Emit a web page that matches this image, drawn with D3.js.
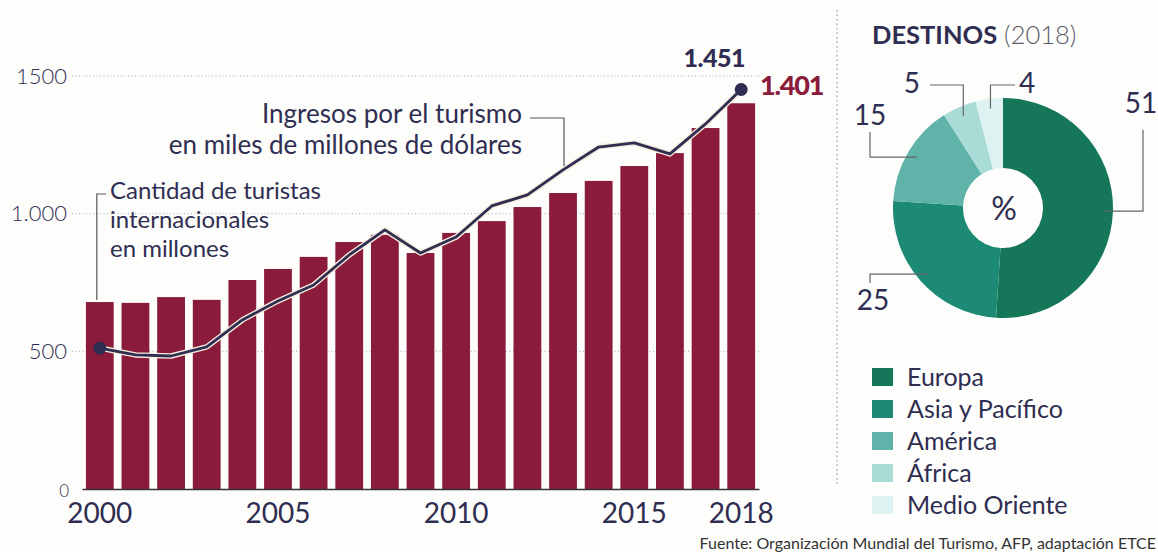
<!DOCTYPE html>
<html>
<head>
<meta charset="utf-8">
<script src="https://cdn.jsdelivr.net/npm/d3@7"></script>
<style>
    body { margin: 0; background: #fdfdfb; }
    svg { display: block; font-family: Lato, "Open Sans", sans-serif; }
</style>
</head>
<body>
<div id="chart"></div>
<script>
// Data
const years = [2000, 2001, 2002, 2003, 2004, 2005, 2006, 2007, 2008, 2009,
               2010, 2011, 2012, 2013, 2014, 2015, 2016, 2017, 2018];
// International tourists, millions (bars)
const tourists = [679, 676, 697, 687, 759, 799, 843, 897, 923, 857,
                  930, 973, 1024, 1075, 1119, 1173, 1220, 1311, 1401];
// Tourism revenue, billions of dollars (line)
const revenue = [512, 487, 483, 516, 614, 683, 741, 850, 941, 857,
                 915, 1028, 1068, 1159, 1242, 1257, 1217, 1326, 1451];
const yearTicks = [2000, 2005, 2010, 2015, 2018];
const valueTicks = [0, 500, 1000, 1500];
const valueTickLabels = ["0", "500", "1.000", "1500"];

const regions = ["Europa", "Asia y Pacífico", "América", "África", "Medio Oriente"];
const shares = [51, 25, 15, 5, 4];
const regionColors = ["#15765a", "#1c8a74", "#5fb3a9", "#a9dcd7", "#def3f1"];

const ink = "#2f2d52";
const barColor = "#8b1b3b";
const width = 1158, height = 552;

const svg = d3.select("#chart").append("svg")
    .attr("width", width)
    .attr("height", height);

// ---- Left chart: bars + line ----
const x = d3.scaleBand()
    .domain(years)
    .range([82, 759])
    .paddingInner(0.22)
    .paddingOuter(0.11);
const y = d3.scaleLinear().domain([0, 1500]).range([489, 76]);
const cx = yr => x(yr) + x.bandwidth() / 2;

// dotted gridlines
svg.append("g").selectAll("line")
    .data(valueTicks.filter(v => v > 0))
    .join("line")
        .attr("x1", 72).attr("x2", 759)
        .attr("y1", d => y(d)).attr("y2", d => y(d))
        .attr("stroke", "#a8a8b0")
        .attr("stroke-width", 1)
        .attr("stroke-dasharray", "1,2.5");

// bars
svg.append("g").selectAll("rect")
    .data(years)
    .join("rect")
        .attr("x", d => x(d))
        .attr("width", x.bandwidth())
        .attr("y", (d, i) => y(tourists[i]))
        .attr("height", (d, i) => y(0) - y(tourists[i]))
        .attr("fill", barColor);

// x axis (baseline + year labels)
const xAxis = svg.append("g")
    .attr("transform", "translate(0," + y(0) + ")")
    .call(d3.axisBottom(x).tickValues(yearTicks).tickSize(0).tickPadding(14));
xAxis.select(".domain").attr("stroke", "#333").attr("stroke-width", 1.5);
xAxis.selectAll("text")
    .attr("font-size", 28)
    .attr("font-family", "Lato, sans-serif")
    .attr("fill", ink);

// y axis labels
const yAxis = svg.append("g")
    .attr("transform", "translate(70,0)")
    .call(d3.axisLeft(y)
        .tickValues(valueTicks)
        .tickFormat((d, i) => valueTickLabels[i])
        .tickSize(0)
        .tickPadding(3));
yAxis.select(".domain").remove();
yAxis.selectAll("text")
    .attr("font-size", 22)
    .attr("font-weight", 300)
    .attr("font-family", "Lato, sans-serif")
    .attr("fill", ink);
// the zero sits tucked in beside "2000"
yAxis.selectAll(".tick").filter(d => d === 0).select("text")
    .attr("font-size", 17)
    .attr("x", -1)
    .attr("dy", "0.45em");

// revenue line with a light halo
const line = d3.line()
    .x((d, i) => cx(years[i]))
    .y(d => y(d));
svg.append("path")
    .datum(revenue)
    .attr("d", line)
    .attr("fill", "none")
    .attr("stroke", "#f6ecdc")
    .attr("stroke-width", 5.5)
    .attr("stroke-linejoin", "round");
svg.append("path")
    .datum(revenue)
    .attr("d", line)
    .attr("fill", "none")
    .attr("stroke", ink)
    .attr("stroke-width", 2.8)
    .attr("stroke-linejoin", "round");

const last = years.length - 1;
svg.append("g").selectAll("circle")
    .data([0, last])
    .join("circle")
        .attr("cx", i => cx(years[i]))
        .attr("cy", i => y(revenue[i]))
        .attr("r", 6.5)
        .attr("fill", ink);

// end value labels
svg.append("text")
    .attr("x", cx(years[last]) - 27)
    .attr("y", y(revenue[last]) - 22)
    .attr("text-anchor", "middle")
    .attr("font-size", 25)
    .attr("font-weight", 900)
    .attr("letter-spacing", -0.5)
    .attr("fill", ink)
    .text("1.451");
svg.append("text")
    .attr("x", x(years[last]) + x.bandwidth() + 5)
    .attr("y", y(tourists[last]) - 8)
    .attr("font-size", 27)
    .attr("font-weight", 900)
    .attr("letter-spacing", -1.2)
    .attr("fill", barColor)
    .text("1.401");

// annotation: revenue
const revX = cx(years[13]) + 1;
svg.append("path")
    .attr("d", "M530,118H" + revX + "V" + (y(revenue[13]) - 4))
    .attr("fill", "none")
    .attr("stroke", "#555")
    .attr("stroke-width", 1.2);
svg.append("text")
    .attr("x", 522)
    .attr("y", 123)
    .attr("text-anchor", "end")
    .attr("font-size", 26)
    .attr("fill", ink)
    .selectAll("tspan")
    .data(["Ingresos por el turismo", "en miles de millones de dólares"])
    .join("tspan")
        .attr("x", 522)
        .attr("dy", (d, i) => i === 0 ? 0 : 31)
        .text(d => d);

// annotation: tourists
const turX = cx(years[0]) - 3;
svg.append("path")
    .attr("d", "M106,194H" + turX + "V" + (y(tourists[0]) - 2))
    .attr("fill", "none")
    .attr("stroke", "#555")
    .attr("stroke-width", 1.2);
svg.append("text")
    .attr("x", 110)
    .attr("y", 199)
    .attr("font-size", 24)
    .attr("fill", ink)
    .selectAll("tspan")
    .data(["Cantidad de turistas", "internacionales", "en millones"])
    .join("tspan")
        .attr("x", 110)
        .attr("dy", (d, i) => i === 0 ? 0 : 28.8)
        .text(d => d);

// separator
svg.append("line")
    .attr("x1", 837).attr("x2", 837)
    .attr("y1", 10).attr("y2", 487)
    .attr("stroke", "#9a9aa2")
    .attr("stroke-width", 1.2)
    .attr("stroke-dasharray", "1.5,3");

// ---- Right chart: donut ----
const pieCenter = [1003, 208];
const title = svg.append("text")
    .attr("x", 872)
    .attr("y", 44)
    .attr("font-size", 25.5)
    .attr("fill", ink);
title.append("tspan").attr("font-weight", 700).text("DESTINOS");
title.append("tspan").attr("font-weight", 300).attr("fill", "#5a5a6a").text(" (2018)");

const pie = d3.pie().sort(null).value(d => d);
const arcs = pie(shares);
const arc = d3.arc().innerRadius(40).outerRadius(110);
const anchorArc = d3.arc().innerRadius(100).outerRadius(100);

const pg = svg.append("g")
    .attr("transform", "translate(" + pieCenter[0] + "," + pieCenter[1] + ")");
pg.selectAll("path.slice")
    .data(arcs)
    .join("path")
        .attr("class", "slice")
        .attr("d", arc)
        .attr("fill", (d, i) => regionColors[i]);

pg.append("text")
    .attr("x", 1)
    .attr("dy", "0.36em")
    .attr("text-anchor", "middle")
    .attr("font-size", 32)
    .attr("fill", ink)
    .text("%");

// leader routes for the slice labels (absolute page coords)
const pieLabelLayout = [
    {route: "hv", x: 1143, y: 130, tx: 1141, ty: 113, anchor: "middle"},
    {route: "hv", x: 870, y: 283, tx: 873, ty: 310, anchor: "middle"},
    {route: "hv", x: 870, y: 132, tx: 870, ty: 125, anchor: "middle"},
    {route: "vh", x: 930, y: 85, tx: 920, ty: 93, anchor: "end"},
    {route: "vh", x: 1015, y: 85, tx: 1019, ty: 93, anchor: "start"}
];

arcs.forEach(function(a, i) {
    const c = anchorArc.centroid(a);
    const ax = pieCenter[0] + c[0], ay = pieCenter[1] + c[1];
    const L = pieLabelLayout[i];
    const d = L.route === "hv"
        ? "M" + ax + "," + ay + "H" + L.x + "V" + L.y
        : "M" + ax + "," + ay + "V" + L.y + "H" + L.x;
    svg.append("path")
        .attr("d", d)
        .attr("fill", "none")
        .attr("stroke", "#666")
        .attr("stroke-width", 1.2);
    svg.append("text")
        .attr("x", L.tx)
        .attr("y", L.ty)
        .attr("text-anchor", L.anchor)
        .attr("font-size", 28)
        .attr("fill", ink)
        .text(shares[i]);
});

// legend
const legend = svg.append("g").selectAll("g")
    .data(regions)
    .join("g")
        .attr("transform", (d, i) => "translate(872," + (377 + i * 32) + ")");
legend.append("rect")
    .attr("y", -9)
    .attr("width", 21)
    .attr("height", 18)
    .attr("fill", (d, i) => regionColors[i]);
legend.append("text")
    .attr("x", 35)
    .attr("dy", "0.36em")
    .attr("font-size", 25)
    .attr("fill", ink)
    .text(d => d);

// source
svg.append("text")
    .attr("x", 1156)
    .attr("y", 549)
    .attr("text-anchor", "end")
    .attr("font-size", 16)
    .attr("fill", "#333")
    .text("Fuente: Organización Mundial del Turismo, AFP, adaptación ETCE");
</script>
</body>
</html>
